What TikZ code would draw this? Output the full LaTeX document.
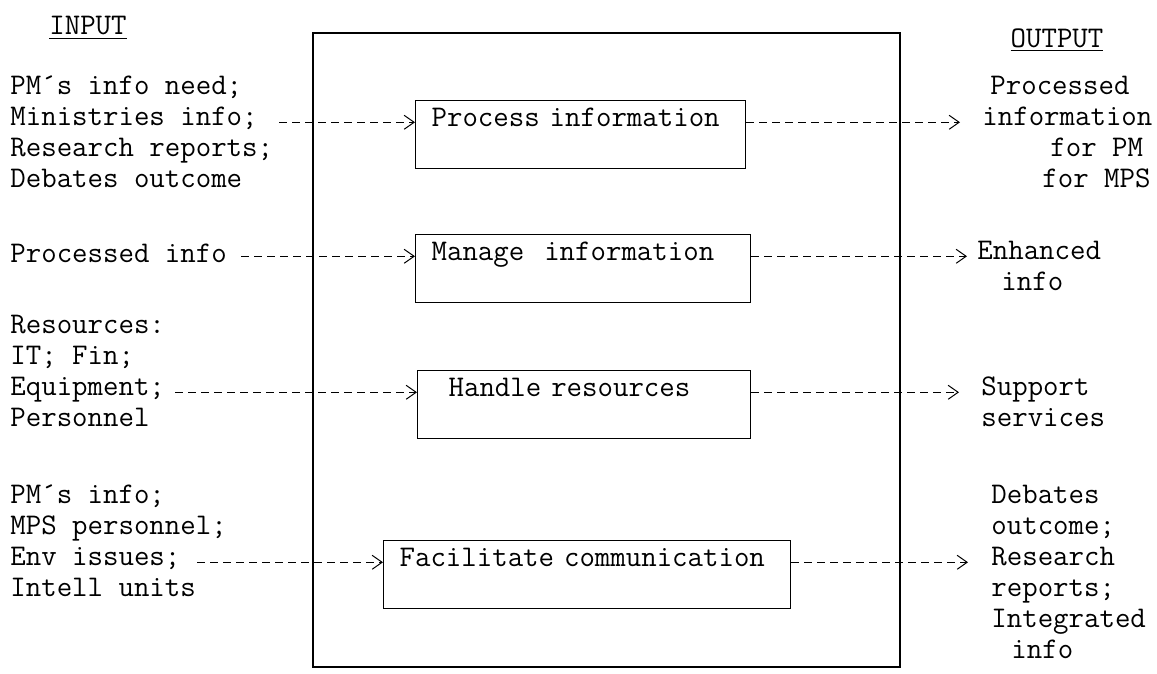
\documentclass[tikz,border=0pt]{standalone}
\usepackage{fontspec}
\usetikzlibrary{arrows.meta,positioning}
\newcommand{\typefont}{\fontsize{15}{15.5}\selectfont\ttfamily}
\tikzset{
  procbox/.style={draw, line width=0.6pt, anchor=north west, align=left,
                  inner xsep=8pt, inner ysep=0pt, text height=13pt,
                  text depth=21pt, font=\typefont},
  lbl/.style={anchor=west, align=left, inner sep=0pt, font=\typefont},
  head/.style={inner sep=0pt, font=\typefont},
  flow/.style={-{Straight Barb[length=5pt,width=7pt]}, line width=0.5pt,
               dash pattern=on 4pt off 2.5pt},
  outflow/.style={flow, shorten >=#1},
  outflow/.default=11pt,
}

\begin{document}
\begin{tikzpicture}[x=0.5pt, y=-0.5pt]
  \useasboundingbox (0,0) rectangle (1157,674);
  % titles
  \node[head] (intitle) at (88,28) {\underline{INPUT}};
  \node[head] (outtitle) at (1057,40) {\underline{OUTPUT}};
  % system frame
  \draw[line width=0.6pt] (313,33) rectangle (900,667);
  % processes
  \node[procbox, text width=149pt] (pbox) at (415,100) {Process information};
  \node[procbox, text width=151.5pt] (mbox) at (415,234) {Manage\ \ information};
  \node[procbox, text width=150.5pt] (hbox) at (417,370) {\hspace*{7.5pt}Handle resources};
  \node[procbox, text width=187.5pt] (fbox) at (383,540) {Facilitate communication};
  % inputs
  \node[lbl] (in1) at (10,132) {PM´s info need;\\Ministries info;\\Research reports;\\Debates outcome};
  \node[lbl] (in2) at (10,253) {Processed info};
  \node[lbl] (in3) at (10,371) {Resources:\\IT; Fin;\\Equipment;\\Personnel};
  \node[lbl] (in4) at (10,541) {PM´s info;\\MPS personnel;\\Env issues;\\Intell units};
  % outputs
  \node[lbl] (out1) at (982,132) {\hspace*{4pt}Processed\\information\\\hspace*{34pt}for PM\\\hspace*{30pt}for MPS};
  \node[lbl] (out2) at (977,266) {Enhanced\\\hspace*{12pt}info};
  \node[lbl] (out3) at (981,402) {Support\\services};
  \node[lbl] (out4) at (991,572) {Debates\\outcome;\\Research\\reports;\\Integrated\\\hspace*{10pt}info};
  % flows in
  \draw[flow] ([xshift=3pt]in1.east |- pbox.mid west) -- (pbox.mid west);
  \draw[flow] ([xshift=7pt]in2.east |- mbox.mid west) -- (mbox.mid west);
  \draw[flow] ([xshift=5pt]in3.east |- hbox.mid west) -- (hbox.mid west);
  \draw[flow] ([xshift=-15pt]in4.east |- fbox.mid west) -- (fbox.mid west);
  % flows out
  \draw[outflow] (pbox.mid east) -- (pbox.mid east -| out1.west);
  \draw[outflow=5pt] (mbox.mid east) -- (mbox.mid east -| out2.west);
  \draw[outflow] (hbox.mid east) -- (hbox.mid east -| out3.west);
  \draw[outflow=11.5pt] (fbox.mid east) -- (fbox.mid east -| out4.west);
\end{tikzpicture}
\end{document}
